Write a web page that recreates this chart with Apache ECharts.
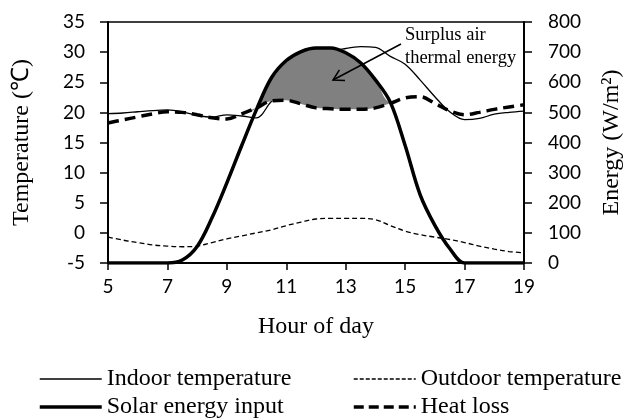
<!DOCTYPE html>
<html>
<head>
<meta charset="utf-8">
<script src="https://cdn.jsdelivr.net/npm/echarts@6/dist/echarts.min.js"></script>
<style>
  html, body { margin: 0; padding: 0; background: #fff; }
  #chart { width: 626px; height: 419px; }
</style>
</head>
<body>
<div id="chart"></div>
<script>
// hour of day, every half hour
const hours = ['5', '5.5', '6', '6.5', '7', '7.5', '8', '8.5', '9', '9.5', '10', '10.5', '11', '11.5',
  '12', '12.5', '13', '13.5', '14', '14.5', '15', '15.5', '16', '16.5', '17', '17.5', '18', '18.5', '19']

// temperatures (°C, left axis)
const indoorTemp = [19.8, 19.9, 20.1, 20.3, 20.4, 20.1, 19.5, 19.2, 19.6, 19.4, 19.1, 21.8, 23.5, 26.0,
  28.5, 30.0, 30.6, 30.9, 30.8, 29.3, 28.0, 25.4, 22.6, 20.1, 18.8, 19.0, 19.7, 20.0, 20.2]
const outdoorTemp = [-0.7, -1.2, -1.6, -2.0, -2.2, -2.3, -2.2, -1.6, -1.0, -0.5, 0.0, 0.5, 1.2, 1.8,
  2.3, 2.4, 2.4, 2.4, 2.2, 1.2, 0.3, -0.3, -0.7, -1.1, -1.6, -2.2, -2.7, -3.1, -3.3]

// energy (W/m2, right axis)
const solarInput = [0, 0, 0, 0, 0, 10, 55, 150, 266, 390, 510, 615, 672, 702,
  714, 714, 698, 665, 608, 534, 390, 228, 125, 48, 0, 0, 0, 0, 0]
const heatLoss = [465, 475, 485, 495, 502, 500, 492, 482, 478, 495, 515, 538, 540, 528,
  515, 512, 510, 510, 515, 530, 548, 552, 530, 505, 492, 500, 510, 518, 525]

// grey area: solar input above heat loss
const surplus = solarInput.map((v, i) => Math.max(v - heatLoss[i], 0))

const serif = 'Liberation Serif'
const sans = 'Lato'
const smooth = 0.35

const legendBase = {
  top: 367, orient: 'vertical', padding: 0, itemWidth: 62, itemHeight: 12, itemGap: 4,
  itemStyle: { opacity: 0 },
  textStyle: { fontFamily: serif, fontSize: 24, lineHeight: 24, color: '#000' }
}

let mycharts = echarts.init(document.getElementById('chart'))
mycharts.setOption({
  backgroundColor: '#fff',
  animation: false,
  grid: {
    left: 108, right: 102, top: 22, bottom: 156,
    outerBoundsMode: 'none',
    show: true, borderColor: '#000', borderWidth: 1.5
  },
  legend: [
    Object.assign({
      left: 38,
      data: [
        { name: 'Indoor temperature', lineStyle: { width: 1.3, type: 'solid' } },
        { name: 'Solar energy input', lineStyle: { width: 3.5, type: 'solid' } }
      ]
    }, legendBase),
    Object.assign({
      left: 352,
      data: [
        { name: 'Outdoor temperature', lineStyle: { width: 1.3, type: [4, 2] } },
        { name: 'Heat loss', lineStyle: { width: 3.5, type: [10, 5] } }
      ]
    }, legendBase)
  ],
  xAxis: {
    type: 'category',
    data: hours,
    boundaryGap: false,
    name: 'Hour of day',
    nameLocation: 'middle',
    nameGap: 52,
    nameTextStyle: { fontFamily: serif, fontSize: 24, color: '#000' },
    axisLine: { onZero: false, lineStyle: { color: '#000', width: 2 } },
    axisTick: { interval: 3, length: 7, lineStyle: { color: '#000', width: 1.5 } },
    axisLabel: { interval: 3, margin: 14, fontFamily: sans, fontSize: 19, color: '#000' },
    splitLine: { show: false }
  },
  yAxis: [
    {
      type: 'value', min: -5, max: 35, interval: 5,
      name: 'Temperature (℃)',
      nameLocation: 'middle',
      nameGap: 74,
      nameTextStyle: { fontFamily: serif, fontSize: 24, color: '#000' },
      axisLine: { show: true, onZero: false, lineStyle: { color: '#000', width: 2 } },
      axisTick: { show: true, length: 8, lineStyle: { color: '#000', width: 1.5 } },
      axisLabel: { margin: 23, fontFamily: sans, fontSize: 19, color: '#000' },
      splitLine: { show: false }
    },
    {
      type: 'value', min: 0, max: 800, interval: 100,
      name: 'Energy (W/m²)',
      nameLocation: 'middle',
      nameGap: 76,
      nameTextStyle: { fontFamily: serif, fontSize: 24, color: '#000' },
      axisLine: { show: true, onZero: false, lineStyle: { color: '#000', width: 2 } },
      axisTick: { show: true, length: 8, lineStyle: { color: '#000', width: 1.5 } },
      axisLabel: { margin: 24, fontFamily: sans, fontSize: 19, color: '#000' },
      splitLine: { show: false }
    }
  ],
  series: [
    {
      name: 'Indoor temperature', type: 'line', yAxisIndex: 0, data: indoorTemp,
      smooth: smooth, symbol: 'none', z: 2,
      lineStyle: { color: '#000', width: 1.3 }, itemStyle: { color: '#000' }
    },
    {
      name: 'Outdoor temperature', type: 'line', yAxisIndex: 0, data: outdoorTemp,
      smooth: smooth, symbol: 'none', z: 2,
      lineStyle: { color: '#000', width: 1.3, type: [5, 3] }, itemStyle: { color: '#000' }
    },
    // base of the grey area (invisible)
    {
      name: 'base', type: 'line', yAxisIndex: 1, data: heatLoss, stack: 'surplus',
      smooth: smooth, symbol: 'none', z: 3,
      lineStyle: { opacity: 0 }, silent: true
    },
    {
      name: 'surplus', type: 'line', yAxisIndex: 1, data: surplus, stack: 'surplus',
      smooth: smooth, symbol: 'none', z: 3,
      lineStyle: { opacity: 0 }, areaStyle: { color: '#808080', opacity: 1 }, silent: true
    },
    {
      name: 'Solar energy input', type: 'line', yAxisIndex: 1, data: solarInput,
      smooth: smooth, symbol: 'none', z: 4,
      lineStyle: { color: '#000', width: 3.5 }, itemStyle: { color: '#000' }
    },
    {
      name: 'Heat loss', type: 'line', yAxisIndex: 1, data: heatLoss,
      smooth: smooth, symbol: 'none', z: 4,
      lineStyle: { color: '#000', width: 3.5, type: [11, 6] }, itemStyle: { color: '#000' }
    }
  ],
  graphic: [
    {
      type: 'text', left: 405, top: 24, z: 10,
      style: {
        text: 'Surplus air\nthermal energy',
        font: '18.5px "Liberation Serif"', fill: '#000', lineHeight: 23
      }
    },
    {
      type: 'line', z: 10,
      shape: { x1: 401, y1: 44, x2: 333, y2: 80 },
      style: { stroke: '#000', lineWidth: 1.5 }
    },
    {
      type: 'polyline', z: 10,
      shape: { points: [[345, 80.4], [333, 80], [339.4, 69.8]] },
      style: { stroke: '#000', lineWidth: 1.5, fill: null }
    }
  ]
})
</script>
</body>
</html>
